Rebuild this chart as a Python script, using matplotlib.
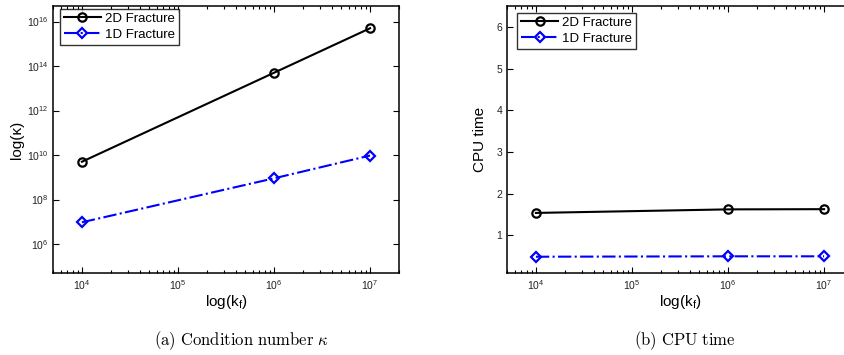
import matplotlib
matplotlib.use("Agg")
import matplotlib.pyplot as plt
from matplotlib.ticker import LogLocator, NullFormatter, NullLocator

plt.rcParams["font.family"] = ["Liberation Sans", "DejaVu Sans"]
plt.rcParams["mathtext.fontset"] = "custom"
plt.rcParams["mathtext.rm"] = "Liberation Sans"
plt.rcParams["mathtext.it"] = "Liberation Sans:italic"
plt.rcParams["mathtext.bf"] = "Liberation Sans:bold"

# data
kf = [1e4, 1e6, 1e7]
cond_2d = [5e9, 5e13, 5e15]
cond_1d = [9.5e6, 9e8, 9.5e9]
cpu_2d = [1.54, 1.625, 1.63]
cpu_1d = [0.49, 0.50, 0.50]
series_names = ["2D Fracture", "1D Fracture"]
captions = [r"$\mathrm{(a)\ Condition\ number}\ \kappa$", r"$\mathrm{(b)\ CPU\ time}$"]

fig = plt.figure(figsize=(8.44, 3.55), dpi=100)
ax1 = fig.add_axes([53 / 844, 1 - 273 / 355, 346 / 844, 267 / 355])
ax2 = fig.add_axes([507 / 844, 1 - 273 / 355, 346 / 844, 267 / 355])


def style(ax):
    ax.tick_params(which="both", direction="in", top=True, right=True,
                   labelsize=7.5, width=0.8, labelcolor="#222222")
    ax.tick_params(which="major", length=4)
    ax.tick_params(which="minor", length=2)
    for s in ax.spines.values():
        s.set_linewidth(1.1)


def draw(ax, y2, y1):
    ax.plot(kf, y2, color="black", ls="-", lw=1.5, marker="o", ms=6,
            mfc="none", mew=1.6, label=series_names[0])
    ax.plot(kf, y1, color="blue", ls="-.", lw=1.5, marker="D", ms=5,
            mfc="none", mew=1.6, label=series_names[1])
    ax.set_xscale("log")
    ax.set_xlim(5e3, 2e7)
    ax.xaxis.set_major_locator(LogLocator(base=10, numticks=10))
    ax.xaxis.set_minor_locator(LogLocator(base=10, subs=range(2, 10), numticks=10))
    ax.xaxis.set_minor_formatter(NullFormatter())
    ax.set_xlabel(r"log(k$_\mathrm{f}$)", fontsize=11, labelpad=1)
    style(ax)


draw(ax1, cond_2d, cond_1d)
ax1.set_yscale("log")
ax1.set_ylim(5e4, 5e16)
ax1.set_yticks([1e6, 1e8, 1e10, 1e12, 1e14, 1e16])
ax1.yaxis.set_minor_locator(NullLocator())
ax1.set_ylabel("log(κ)", fontsize=11, labelpad=2)
leg1 = ax1.legend(loc="upper left", bbox_to_anchor=(0.02, 0.99), fontsize=9.5,
                  handlelength=2.8, frameon=True, fancybox=False,
                  edgecolor="black", borderpad=0.3, labelspacing=0.3,
                  handletextpad=0.3, borderaxespad=0)
leg1.get_frame().set_linewidth(1)

draw(ax2, cpu_2d, cpu_1d)
ax2.set_ylim(0.1, 6.5)
ax2.set_yticks([1, 2, 3, 4, 5, 6])
ax2.set_ylabel("CPU time", fontsize=11, labelpad=7)
leg2 = ax2.legend(loc="upper left", bbox_to_anchor=(0.03, 0.975), fontsize=9.5,
                  handlelength=2.8, frameon=True, fancybox=False,
                  edgecolor="black", borderpad=0.3, labelspacing=0.3,
                  handletextpad=0.3, borderaxespad=0)
leg2.get_frame().set_linewidth(1)

fig.text(241 / 844, 1 - 341 / 355, captions[0], ha="center", va="center",
         fontsize=12, math_fontfamily="cm")
fig.text(685 / 844, 1 - 341 / 355, captions[1], ha="center", va="center",
         fontsize=12, math_fontfamily="cm")

fig.savefig("out.png", dpi=100)
